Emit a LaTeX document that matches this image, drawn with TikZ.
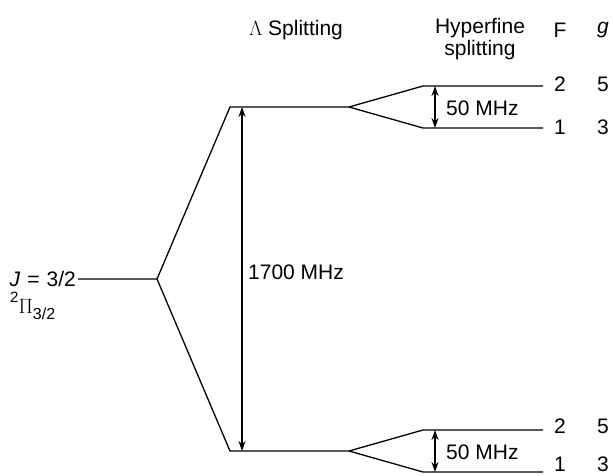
\documentclass[tikz,border=0pt]{standalone}
\usepackage{fontspec}
\setmainfont{Liberation Sans}
\usetikzlibrary{arrows.meta}
\begin{document}
\begin{tikzpicture}[x=1pt,y=-1pt,
  lvl/.style={line width=1.3pt},
  dbl/.style={line width=1.2pt,{Stealth[length=10pt,width=7pt]}-{Stealth[length=10pt,width=7pt]}},
  lbl/.style={font=\fontsize{21}{25}\selectfont,inner sep=0pt}]
\useasboundingbox (0,0) rectangle (613,475);
% coordinates
\coordinate (L0) at (78,279);
\coordinate (B) at (157,279);
\coordinate (UA) at (230,107);
\coordinate (UB) at (349,107);
\coordinate (DA) at (230,451);
\coordinate (DB) at (349,451);
\coordinate (U2a) at (423,86);  \coordinate (U2b) at (543,86);
\coordinate (U1a) at (423,128); \coordinate (U1b) at (543,128);
\coordinate (D2a) at (423,430); \coordinate (D2b) at (543,430);
\coordinate (D1a) at (423,472); \coordinate (D1b) at (543,472);
% levels
\draw[lvl] (L0) -- (B) -- (UA) -- (UB) -- (U2a) -- (U2b);
\draw[lvl] (UB) -- (U1a) -- (U1b);
\draw[lvl] (B) -- (DA) -- (DB) -- (D2a) -- (D2b);
\draw[lvl] (DB) -- (D1a) -- (D1b);
% arrows
\coordinate (A1t) at (242,107); \coordinate (A1b) at (242,451);
\draw[dbl] (A1t) -- (A1b);
\coordinate (A2t) at (435,86); \coordinate (A2b) at (435,128);
\draw[dbl] (A2t) -- (A2b);
\coordinate (A3t) at (435,430); \coordinate (A3b) at (435,472);
\draw[dbl] (A3t) -- (A3b);
% labels
\node[lbl,anchor=east] (jl) at (76,279) {\textit{J}\,\,=\,\,3/2};
\node[lbl,anchor=west] (pi) at (10,306) {\raisebox{0.5em}{\fontsize{15}{16}\selectfont 2}$\Pi$\raisebox{-0.3em}{\fontsize{16}{16}\selectfont 3/2}};
\node[lbl,anchor=west] (big) at (248,272) {1700 MHz};
\node[lbl,anchor=west] (m1) at (446,108) {50 MHz};
\node[lbl,anchor=west] (m2) at (446,452) {50 MHz};
\node[lbl] (lam) at (296,30) {$\Lambda$ Splitting};
\node[lbl,align=center,font=\fontsize{21}{22}\selectfont] (hf) at (480,39) {Hyperfine\\splitting};
\node[lbl] (F) at (560,30) {F};
\node[lbl] (g) at (603,30) {\textit{g}};
\node[lbl] (f2u) at (560,84) {2};
\node[lbl] (g5u) at (603,84) {5};
\node[lbl] (f1u) at (560,127) {1};
\node[lbl] (g3u) at (603,127) {3};
\node[lbl] (f2d) at (560,426) {2};
\node[lbl] (g5d) at (603,426) {5};
\node[lbl] (f1d) at (560,464) {1};
\node[lbl] (g3d) at (603,464) {3};
\end{tikzpicture}
\end{document}
